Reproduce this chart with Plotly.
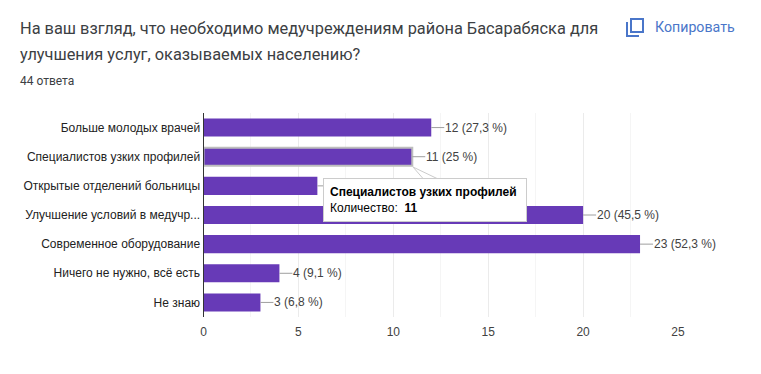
import plotly.graph_objects as go

categories = ["Больше молодых врачей", "Специалистов узких профилей", "Открытые отделений больницы",
              "Улучшение условий в медучр...", "Современное оборудование", "Ничего не нужно, всё есть", "Не знаю"]
counts = [12, 11, 6, 20, 23, 4, 3]
percents = ["27,3", "25", "13,6", "45,5", "52,3", "9,1", "6,8"]
x_ticks = [0, 5, 10, 15, 20, 25]
title_lines = ["На ваш взгляд, что необходимо медучреждениям района Басарабяска для",
               "улучшения услуг, оказываемых населению?"]
subtitle = "44 ответа"
copy_label = "Копировать"
highlight = 1

W, H = 761, 374
PURPLE = "#673ab7"
BLUE = "#4a76c9"
def px(x): return x / W
def py(y): return 1 - y / H

fig = go.Figure(go.Bar(
    x=counts, y=categories, orientation="h", width=0.62,
    marker=dict(color=PURPLE,
                line=dict(color=["#bdbdbd" if i == highlight else PURPLE for i in range(len(counts))],
                          width=[2 if i == highlight else 0 for i in range(len(counts))])),
    hoverinfo="skip"))

ann = []
def text(x, y, t, size, color="#202124", family="Roboto"):
    ann.append(dict(xref="paper", yref="paper", x=px(x), y=py(y), text=t, showarrow=False,
                    xanchor="left", yanchor="middle", font=dict(size=size, color=color, family=family)))
text(18, 29, title_lines[0], 16.35, "#3c4043")
text(18, 54, title_lines[1], 16.35, "#3c4043")
text(18, 81, subtitle, 12, "#3c4043")
text(653, 27.5, copy_label, 14.2, BLUE)

for c, v, p in zip(categories, counts, percents):
    ann.append(dict(xref="x", yref="y", x=v, y=c, text=f"{v} ({p} %)", showarrow=True, arrowhead=0,
                    arrowcolor="#9e9e9e", arrowwidth=1, ax=13, ay=0, xanchor="left", yanchor="middle",
                    borderpad=0, font=dict(size=12, color="#424242", family="Liberation Sans")))

ann.append(dict(xref="paper", yref="paper", x=px(323), y=py(178), xanchor="left", yanchor="top",
                text=f"<b>{categories[highlight]}</b><br>Количество:  <b>{counts[highlight]}</b>",
                showarrow=False, align="left", bgcolor="white", bordercolor="#cccccc", borderwidth=1,
                borderpad=6, width=190, font=dict(size=12, color="#000000", family="Liberation Sans")))

shapes = [
    # copy icon
    dict(type="path", xref="paper", yref="paper", line=dict(color=BLUE, width=2), fillcolor="rgba(0,0,0,0)",
         path=f"M{px(631)},{py(19)} L{px(643)},{py(19)} L{px(643)},{py(32)} L{px(631)},{py(32)} Z"),
    dict(type="path", xref="paper", yref="paper", line=dict(color=BLUE, width=2), fillcolor="rgba(0,0,0,0)",
         path=f"M{px(627)},{py(22)} L{px(627)},{py(36)} L{px(639)},{py(36)}"),
    # tooltip tail
    dict(type="path", xref="paper", yref="paper", line=dict(color="#cccccc", width=1), fillcolor="white",
         path=f"M{px(413)},{py(167)} L{px(423)},{py(178.5)} L{px(437)},{py(178.5)} Z"),
]

fig.update_layout(
    width=W, height=H, autosize=False, margin=dict(l=0, r=0, t=0, b=0, autoexpand=False),
    paper_bgcolor="white", plot_bgcolor="white", showlegend=False,
    annotations=ann, shapes=shapes,
    xaxis=dict(domain=[px(203.5), px(678)], range=[0, 25], tickvals=x_ticks, ticks="",
               showgrid=True, gridcolor="#ebebeb", gridwidth=1,
               minor=dict(dtick=2.5, showgrid=True, gridcolor="#f5f5f5", gridwidth=1),
               zeroline=False, showline=False,
               tickfont=dict(size=12, color="#424242", family="Liberation Sans"), ticklabelstandoff=6),
    yaxis=dict(domain=[py(317), py(113)], autorange="reversed", type="category",
               categoryorder="array", categoryarray=categories, ticks="", showgrid=False,
               showline=True, linecolor="#333333", linewidth=1, ticklabelstandoff=0,
               tickfont=dict(size=12, color="#222222", family="Liberation Sans")),
)
fig.write_html("out.html", config=dict(displayModeBar=False),
               post_script="document.body.style.margin='0';document.body.style.overflow='hidden';")
